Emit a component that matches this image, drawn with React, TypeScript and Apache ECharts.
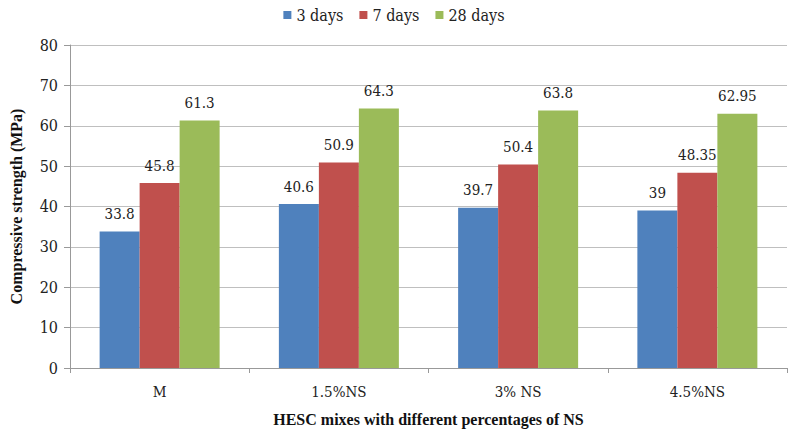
import React, { useEffect, useRef } from "react";
import * as echarts from "echarts";

const categories = ["M", "1.5%NS", "3% NS", "4.5%NS"];
const seriesNames = ["3 days", "7 days", "28 days"];
const days3 = [33.8, 40.6, 39.7, 39];
const days7 = [45.8, 50.9, 50.4, 48.35];
const days28 = [61.3, 64.3, 63.8, 62.95];
const colors = ["#4F81BD", "#C0504D", "#9BBB59"];

const FONT = "DejaVu Serif Condensed, DejaVu Serif, serif";
const BOLD_FONT = "Liberation Serif";

export default function App() {
  const ref = useRef<HTMLDivElement>(null);
  useEffect(() => {
    if (!ref.current) return;
    const chart = echarts.init(ref.current, undefined, { renderer: "svg" });
    const data = [days3, days7, days28];
    chart.setOption({
      animation: false,
      textStyle: { fontFamily: FONT },
      legend: {
        top: 2,
        left: "center",
        itemWidth: 8,
        itemHeight: 8,
        itemGap: 16,
        icon: "rect",
        textStyle: { fontFamily: FONT, fontSize: 16, color: "#222" },
        data: seriesNames,
      },
      grid: { left: 67, right: 1, top: 45, bottom: 65 },
      xAxis: {
        type: "category",
        data: categories,
        axisLine: { lineStyle: { color: "#999" } },
        axisTick: { show: true, length: 5, lineStyle: { color: "#999" } },
        axisLabel: { fontFamily: FONT, fontSize: 15, color: "#222", margin: 16 },
        name: "HESC mixes with different percentages of NS",
        nameLocation: "middle",
        nameGap: 43,
        nameTextStyle: { fontFamily: BOLD_FONT, fontSize: 16, fontWeight: "bold", color: "#111" },
      },
      yAxis: {
        type: "value",
        min: 0,
        max: 80,
        interval: 10,
        axisLine: { show: true, lineStyle: { color: "#999" } },
        axisTick: { show: true, length: 6, lineStyle: { color: "#999" } },
        splitLine: { lineStyle: { color: "#bfbfbf" } },
        axisLabel: { fontFamily: FONT, fontSize: 16, color: "#222", margin: 12 },
        name: "Compressive strength (MPa)",
        nameLocation: "middle",
        nameGap: 46,
        nameTextStyle: { fontFamily: BOLD_FONT, fontSize: 16, fontWeight: "bold", color: "#111" },
      },
      series: seriesNames.map((name, i) => ({
        name,
        type: "bar",
        data: data[i],
        barWidth: 40,
        barGap: "0%",
        itemStyle: { color: colors[i] },
        label: {
          show: true,
          position: "top",
          distance: 10,
          fontFamily: FONT,
          fontSize: 15,
          color: "#222",
        },
      })),
    });
    return () => chart.dispose();
  }, []);
  return (
    <div
      ref={ref}
      style={{ position: "absolute", left: 0, top: 0, width: 788, height: 433, background: "#fff" }}
    />
  );
}
